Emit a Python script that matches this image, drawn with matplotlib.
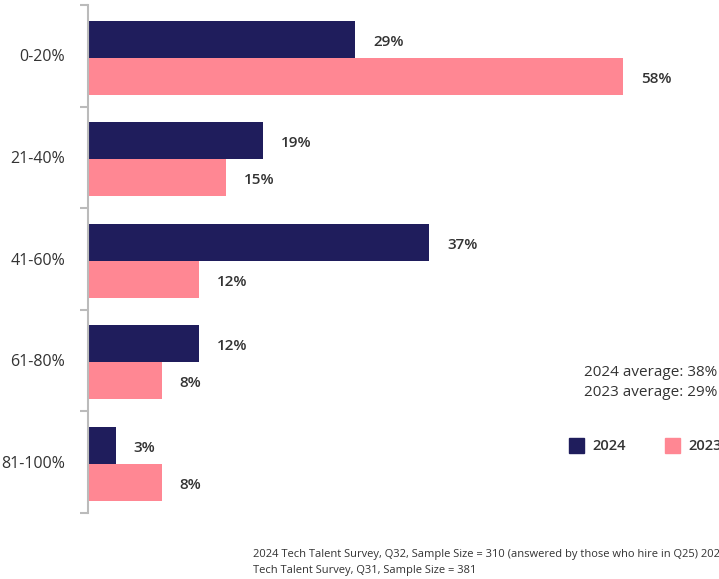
import matplotlib
matplotlib.use("Agg")
import matplotlib.pyplot as plt
from matplotlib.patches import Rectangle

categories = ["0-20%", "21-40%", "41-60%", "61-80%", "81-100%"]
values_2024 = [29, 19, 37, 12, 3]
values_2023 = [58, 15, 12, 8, 8]
series_labels = ["2024", "2023"]
avg_lines = ["2024 average: 38%", "2023 average: 29%"]
footer = ("2024 Tech Talent Survey, Q32, Sample Size = 310 (answered by those who hire in Q25) 2023\n"
          "Tech Talent Survey, Q31, Sample Size = 381")

NAVY = "#1f1d5c"
PINK = "#ff8793"
TXT = "#333333"
plt.rcParams['font.family'] = ['Open Sans', 'DejaVu Sans']

W, H = 719, 579
fig = plt.figure(figsize=(W / 100, H / 100), dpi=100)
x0, x1 = 88, 719
y_top, y_bot = 5, 513
ax = fig.add_axes([x0 / W, 1 - y_bot / H, (x1 - x0) / W, (y_bot - y_top) / H])
px_per = 9.22
ax.set_xlim(0, (x1 - x0) / px_per)
ax.set_ylim(len(categories) - 0.5, -0.5)

bh = 0.364
dy = 0.018
ys = list(range(len(categories)))
ax.barh([y - bh / 2 + dy for y in ys], values_2024, height=bh, color=NAVY)
ax.barh([y + bh / 2 + dy for y in ys], values_2023, height=bh, color=PINK)
off = 18 / px_per
ldy = 0.025
for y, v in zip(ys, values_2024):
    ax.text(v + off, y - bh / 2 + dy + ldy, f"{v}%", va="center", ha="left", fontsize=11,
            fontweight="semibold", color=TXT)
for y, v in zip(ys, values_2023):
    ax.text(v + off, y + bh / 2 + dy + ldy, f"{v}%", va="center", ha="left", fontsize=11,
            fontweight="semibold", color=TXT)

for s in ["top", "right", "bottom"]:
    ax.spines[s].set_visible(False)
ax.spines["left"].set_color("#bbbbbb")
ax.spines["left"].set_linewidth(1.5)
ax.set_xticks([])
ax.set_yticks([y - 0.5 for y in ys] + [len(categories) - 0.5])
ax.set_yticklabels([])
ax.tick_params(axis="y", length=6, width=1.5, color="#bbbbbb")
for y, c in zip(ys, categories):
    ax.text(-23 / px_per, y + 0.015, c, ha="right", va="center", fontsize=11.5, color=TXT)

fig.text(584 / W, 1 - 372 / H, avg_lines[0], ha="left", va="center", fontsize=11, color=TXT)
fig.text(584 / W, 1 - 393 / H, avg_lines[1], ha="left", va="center", fontsize=11, color=TXT)

for xs, col, lab in [(569, NAVY, series_labels[0]), (665, PINK, series_labels[1])]:
    fig.patches.append(Rectangle((xs / W, 1 - 453 / H), 15 / W, 15 / H,
                                 transform=fig.transFigure, color=col))
    fig.text((xs + 23) / W, 1 - 446 / H, lab, ha="left", va="center", fontsize=10.5,
             fontweight="semibold", color=TXT)

fig.text(253 / W, 1 - 562.5 / H, footer, ha="left", va="center", fontsize=8,
         color=TXT, linespacing=1.75)

fig.savefig("out.png", dpi=100)
